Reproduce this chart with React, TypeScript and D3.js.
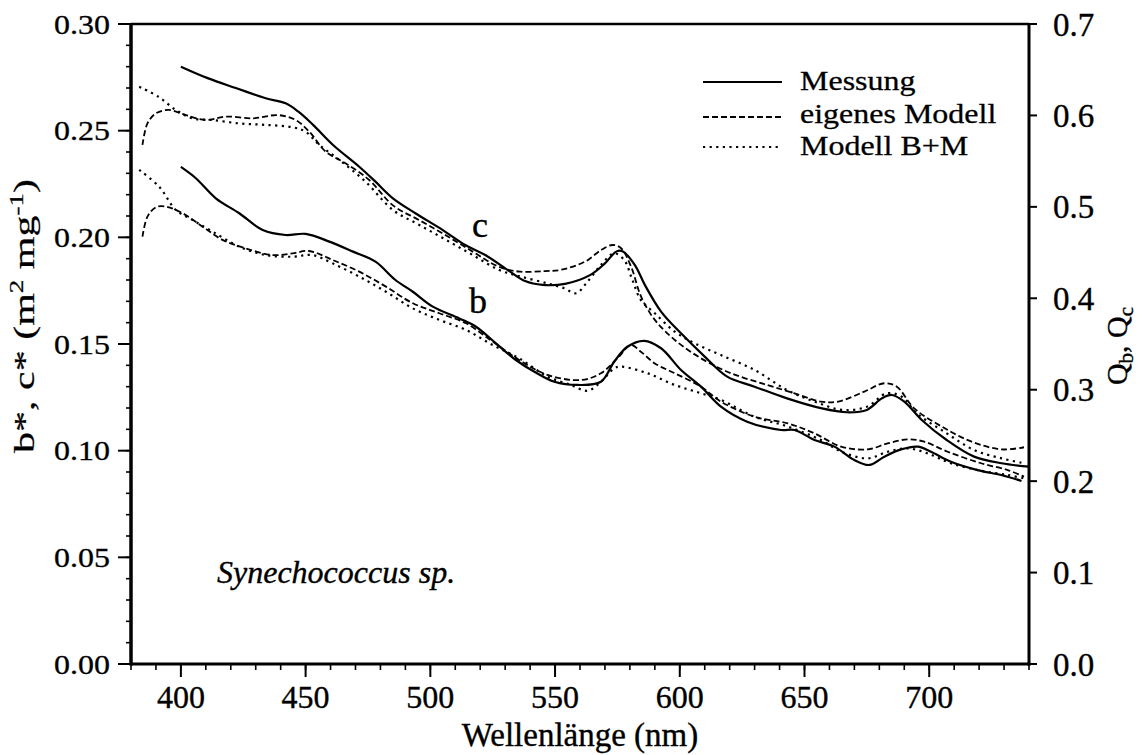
import React from 'react';
import * as d3 from 'd3';

const W = 1143;
const H = 755;
const PL = 131, PR = 1029, PT = 24, PB = 664;

// [wavelength nm, value]
const cMessung: [number, number][] = [
  [400, 0.280], [411, 0.2745], [422, 0.270], [434, 0.2652], [442, 0.2628], [447, 0.259], [453, 0.2527],
  [461, 0.2433], [471.5, 0.2331], [478, 0.2261], [485, 0.2183], [494, 0.2113], [505, 0.2034], [514, 0.1964],
  [522, 0.1917], [532, 0.1839], [538, 0.1795], [545, 0.1777], [554, 0.1782], [564, 0.1823], [570, 0.1878],
  [574.5, 0.1933], [577, 0.1935], [582, 0.187], [586, 0.1777], [592.5, 0.1652], [600.5, 0.155], [610, 0.1441],
  [619, 0.1347], [630, 0.130], [643, 0.1245], [657, 0.1198], [667, 0.118], [675, 0.1191], [681, 0.1245],
  [685, 0.1261], [690, 0.123], [697, 0.1144], [707, 0.105], [718, 0.0972], [729, 0.0941], [740, 0.0925],
];
const cEigen: [number, number][] = [
  [384.6, 0.2433], [386.6, 0.2534], [390, 0.2581], [395, 0.2597], [402, 0.2573], [410, 0.255], [418, 0.2566],
  [429, 0.2558], [439, 0.2573], [446, 0.255], [451.5, 0.2495], [458, 0.2402], [466, 0.2347], [475.5, 0.2269],
  [485, 0.2150], [495.5, 0.2081], [506, 0.2011], [517, 0.1933], [527.5, 0.1862], [536, 0.1839], [546, 0.1842],
  [552, 0.1847], [562, 0.1886], [568.5, 0.1941], [573, 0.1964], [576.5, 0.1949], [580.5, 0.1862], [584.5, 0.1722],
  [590, 0.1613], [598, 0.1519], [608.5, 0.1433], [620.5, 0.1363], [635, 0.1308], [646, 0.1269], [656.5, 0.123],
  [663.5, 0.123], [674, 0.1277], [682, 0.1316], [687, 0.130], [694, 0.1198], [705, 0.1113], [717, 0.1042],
  [729, 0.1006], [738, 0.1016],
];
const cBM: [number, number][] = [
  [383.3, 0.2706], [391, 0.2659], [398, 0.2597], [404.7, 0.2558], [412.7, 0.255], [423.4, 0.2534], [434, 0.2527],
  [444.8, 0.2516], [450, 0.2495], [455.5, 0.2433], [463.5, 0.2363], [474, 0.2261], [485, 0.2128], [495.6, 0.2058],
  [506.3, 0.1988], [517, 0.1917], [527.6, 0.1847], [536.3, 0.1816], [547, 0.1784], [553.7, 0.1761], [558.4, 0.1738],
  [563, 0.1792], [568.4, 0.187], [573.7, 0.1925], [577.7, 0.1894], [581, 0.180], [584.4, 0.1706], [590, 0.1644],
  [598, 0.1558], [606, 0.1503], [616.5, 0.1448], [630, 0.1378], [643, 0.1284], [654, 0.123], [665, 0.1191],
  [675, 0.1206], [683, 0.1269], [689, 0.1253], [695, 0.1175], [706, 0.1089], [718, 0.1003], [729, 0.0964],
  [738, 0.0941],
];
const bMessung: [number, number][] = [
  [400, 0.2330], [406, 0.2277], [414, 0.2183], [423.4, 0.2113], [432.8, 0.2034], [442, 0.2011], [450, 0.2016],
  [459.5, 0.198], [469, 0.1933], [478, 0.1886], [486, 0.180], [493, 0.1745], [501, 0.1675], [511.6, 0.162],
  [518.3, 0.1581], [526.3, 0.1503], [534.3, 0.1425], [541.7, 0.137], [549.7, 0.1323], [559, 0.1308], [568.4, 0.1323],
  [573.7, 0.1417], [579, 0.1487], [585.7, 0.1515], [592.5, 0.148], [600.5, 0.1378], [608.5, 0.130], [616.5, 0.1206],
  [627, 0.1136], [640.6, 0.1097], [646, 0.1097], [654, 0.105], [662, 0.1019], [670, 0.0956], [676, 0.0933],
  [682, 0.0972], [688.7, 0.1006], [695.4, 0.1019], [700.7, 0.0995], [708.7, 0.0948], [719.4, 0.0909],
  [728.8, 0.0886], [737, 0.0858],
];
const bEigen: [number, number][] = [
  [384.6, 0.2003], [386.6, 0.2097], [390, 0.2141], [394, 0.2144], [400.7, 0.2113], [408.7, 0.205], [416.7, 0.1988],
  [426, 0.1948], [436.8, 0.1917], [444.8, 0.1925], [451.4, 0.1936], [460.8, 0.1894], [471.5, 0.1839], [482.2, 0.1769],
  [493, 0.1691], [503.6, 0.1644], [514.3, 0.1597], [525, 0.1511], [535.6, 0.1425], [547, 0.1355], [560.4, 0.1331],
  [568.4, 0.1363], [575, 0.1433], [580.4, 0.1495], [584.4, 0.1464], [590, 0.1409], [598, 0.1363], [608.5, 0.130],
  [616.5, 0.123], [630, 0.1159], [643.3, 0.1128], [654, 0.1081], [664.7, 0.1019], [675.3, 0.1006], [683.3, 0.1034],
  [691.3, 0.1053], [698, 0.1042], [707.4, 0.0995], [720.8, 0.0941], [731.5, 0.0909], [738, 0.0878],
];
const bBM: [number, number][] = [
  [383.3, 0.2316], [391.3, 0.2237], [398, 0.2128], [404.7, 0.2081], [412.7, 0.2027], [423.4, 0.1956], [434, 0.1917],
  [444.8, 0.1909], [452.8, 0.1917], [460.8, 0.1878], [471.5, 0.1816], [482.2, 0.1745], [493, 0.1667], [503.6, 0.1613],
  [514.3, 0.1566], [525, 0.1495], [535.6, 0.1433], [547, 0.1347], [556.4, 0.1308], [563, 0.1281], [568.4, 0.1323],
  [573.7, 0.1386], [576.4, 0.1394], [587, 0.1363], [598, 0.1308], [608.5, 0.1269], [616.5, 0.1238], [630, 0.1159],
  [643.3, 0.1113], [656.6, 0.105], [664.7, 0.0995], [675.3, 0.0964], [683.3, 0.0995], [691.3, 0.1011],
  [699.4, 0.0987], [708.7, 0.0941], [720.8, 0.0906], [731.5, 0.0886], [738, 0.087],
];

const xMajor = [400, 450, 500, 550, 600, 650, 700];
const xMinor = d3.range(38, 75).map((i) => i * 10);
const yLeftMajor = [0, 0.05, 0.1, 0.15, 0.2, 0.25, 0.3];
const yLeftMinor = d3.range(0, 31).map((i) => i / 100);
const yRightMajor = [0, 0.1, 0.2, 0.3, 0.4, 0.5, 0.6, 0.7];

const legendItems = [
  { label: 'Messung', dash: 'none' },
  { label: 'eigenes Modell', dash: '6 3' },
  { label: 'Modell B+M', dash: '2.2 4.4' },
];

const FONT = "'Liberation Serif', 'DejaVu Serif', serif";
const TS = { stroke: '#000', strokeWidth: 0.35 };

export default function App() {
  const x = d3.scaleLinear().domain([380, 740]).range([PL, PR]);
  const y = d3.scaleLinear().domain([0, 0.3]).range([PB, PT]);
  const y2 = d3.scaleLinear().domain([0, 0.7]).range([PB, PT]);
  const line = d3
    .line<[number, number]>()
    .x((d) => x(d[0]))
    .y((d) => y(d[1]))
    .curve(d3.curveCatmullRom.alpha(0.5));

  const series = [
    { data: cMessung, dash: 'none', w: 2.2 },
    { data: bMessung, dash: 'none', w: 2.2 },
    { data: cEigen, dash: '6 3', w: 1.8 },
    { data: bEigen, dash: '6 3', w: 1.8 },
    { data: cBM, dash: '2.2 4.4', w: 2.2 },
    { data: bBM, dash: '2.2 4.4', w: 2.2 },
  ];

  return (
    <svg
      width={W}
      height={H}
      viewBox={`0 0 ${W} ${H}`}
      style={{ position: 'absolute', left: 0, top: 0, background: '#fff' }}
      fontFamily={FONT}
    >
      <rect x={0} y={0} width={W} height={H} fill="#fff" />
      {series.map((s, i) => (
        <path
          key={i}
          d={line(s.data) || ''}
          fill="none"
          stroke="#000"
          strokeWidth={s.w}
          strokeDasharray={s.dash}
        />
      ))}

      {/* frame */}
      <line x1={PL} x2={PR} y1={PT} y2={PT} stroke="#000" strokeWidth={2.5} />
      <line x1={PL} x2={PR + 1.5} y1={PB} y2={PB} stroke="#000" strokeWidth={3} />
      <line x1={PL} x2={PL} y1={PT - 1} y2={PB + 1.5} stroke="#000" strokeWidth={3.5} />
      <line x1={PR} x2={PR} y1={PT - 1} y2={PB + 1.5} stroke="#000" strokeWidth={3} />

      {/* left ticks */}
      {yLeftMinor.map((v) => (
        <line key={'lm' + v} x1={PL - 5} x2={PL} y1={y(v)} y2={y(v)} stroke="#000" strokeWidth={1.6} />
      ))}
      {yLeftMajor.map((v) => (
        <g key={'lM' + v}>
          <line x1={PL - 13} x2={PL} y1={y(v)} y2={y(v)} stroke="#000" strokeWidth={2} />
          <text
            transform={`translate(110,${y(v) + 9.5}) scale(1,0.83)`}
            textAnchor="end"
            fontSize={32}
            {...TS}
          >
            {v.toFixed(2)}
          </text>
        </g>
      ))}

      {/* right ticks */}
      {yRightMajor.map((v) => (
        <g key={'r' + v}>
          <line x1={PR} x2={PR + 8} y1={y2(v)} y2={y2(v)} stroke="#000" strokeWidth={2} />
          <text x={1053} y={y2(v) + 11.5} fontSize={33} {...TS}>
            {v.toFixed(1)}
          </text>
        </g>
      ))}

      {/* x ticks */}
      {xMinor.map((v) => (
        <line key={'xm' + v} x1={x(v)} x2={x(v)} y1={PB} y2={PB + 6} stroke="#000" strokeWidth={1.6} />
      ))}
      {xMajor.map((v) => (
        <g key={'xM' + v}>
          <line x1={x(v)} x2={x(v)} y1={PB} y2={PB + 13} stroke="#000" strokeWidth={2} />
          <text x={x(v)} y={708} textAnchor="middle" fontSize={32} {...TS}>
            {v}
          </text>
        </g>
      ))}

      {/* axis titles */}
      <text x={(PL + PR) / 2} y={746} textAnchor="middle" fontSize={33} {...TS}>
        Wellenlänge (nm)
      </text>
      <text transform={`translate(34,316) rotate(-90) scale(1,0.7)`} textAnchor="middle" fontSize={42} {...TS}>
        b*, c* (m<tspan fontSize={27} dy={-16}>2</tspan>
        <tspan dy={16}> mg</tspan>
        <tspan fontSize={27} dy={-16}>-1</tspan>
        <tspan dy={16}>)</tspan>
      </text>
      <text transform={`translate(1127,346) rotate(-90)`} textAnchor="middle" fontSize={30} {...TS}>
        Q<tspan fontSize={21} dy={6}>b</tspan>
        <tspan dy={-6}>, Q</tspan>
        <tspan fontSize={21} dy={6}>c</tspan>
      </text>

      {/* curve labels */}
      <text x={480} y={237} textAnchor="middle" fontSize={36} {...TS}>c</text>
      <text x={478} y={313} textAnchor="middle" fontSize={36} {...TS}>b</text>

      {/* species */}
      <text x={217} y={583} fontSize={32} fontStyle="italic" {...TS}>Synechococcus sp.</text>

      {/* legend */}
      {legendItems.map((it, i) => {
        const ly = [82, 117, 147][i];
        const ty = [90, 123, 155][i];
        return (
          <g key={it.label}>
            <line
              x1={703}
              x2={782}
              y1={ly}
              y2={ly}
              stroke="#000"
              strokeWidth={i === 0 ? 2.2 : 1.8}
              strokeDasharray={it.dash}
            />
            <text transform={`translate(800,${ty}) scale(1,0.83)`} fontSize={32} {...TS}>
              {it.label}
            </text>
          </g>
        );
      })}
    </svg>
  );
}
